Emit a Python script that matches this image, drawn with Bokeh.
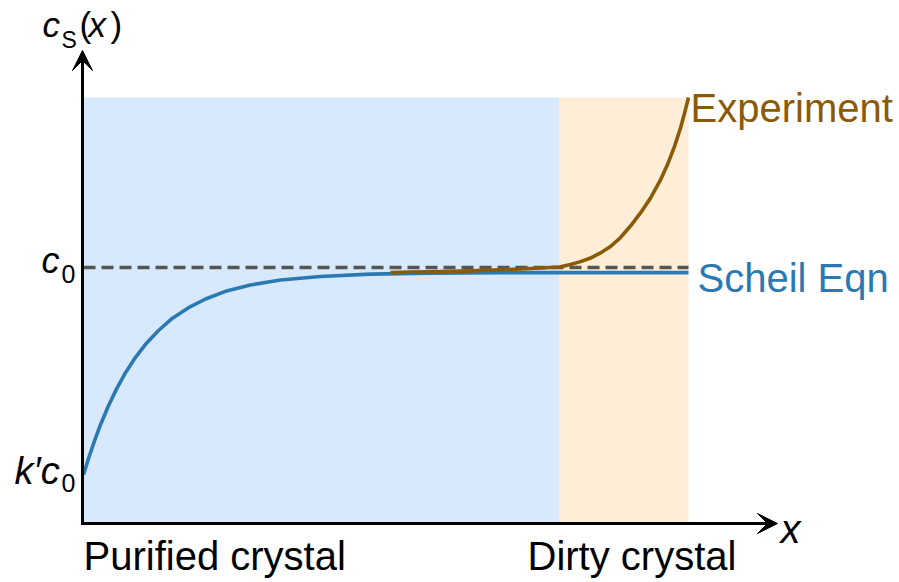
from bokeh.plotting import figure
from bokeh.models import Range1d, Arrow, VeeHead, Label
from bokeh.embed import file_html
from bokeh.resources import INLINE

# ---- data (position along crystal as fraction, concentration as c/c0) ----
scheil_x = [0.0, 0.0083, 0.0182, 0.0281, 0.0413, 0.0545, 0.0694, 0.0860, 0.1025,
            0.124, 0.147, 0.1736, 0.2017, 0.2347, 0.276, 0.3256, 0.3917, 0.4744,
            0.5736, 0.6893, 0.7868, 0.8876, 1.0]
scheil_c = [0.191, 0.254, 0.323, 0.386, 0.460, 0.525, 0.589, 0.649, 0.700,
            0.754, 0.802, 0.843, 0.877, 0.907, 0.932, 0.951, 0.965, 0.974,
            0.978, 0.980, 0.980, 0.980, 0.980]

exp_x = [0.5074, 0.5405, 0.5901, 0.6397, 0.6893, 0.7223, 0.7554, 0.7868, 0.8050,
         0.8215, 0.8380, 0.8545, 0.8711, 0.8876, 0.9041, 0.9207, 0.9372, 0.9537,
         0.9653, 0.9769, 0.9868, 0.9934, 1.0]
exp_c = [0.980, 0.982, 0.984, 0.987, 0.991, 0.994, 0.998, 1.002, 1.012,
         1.023, 1.037, 1.057, 1.082, 1.117, 1.162, 1.213, 1.271, 1.342,
         1.402, 1.473, 1.545, 1.602, 1.664]

region_names = ["Purified crystal", "Dirty crystal"]
region_left = [0.0, 0.787]
region_right = [0.787, 1.0]
region_top = 1.664
c0_level = 1.0
kc0_level = 0.191

BLUE = "#2a79b3"
BROWN = "#8b5a06"
FONT = "Liberation Sans"

# pixel helpers for annotation placement (image px -> data)
def X(px):
    return (px - 83) / 605.0

def Y(py):
    return (523 - py) / 256.0

p = figure(width=899, height=582, output_backend="svg", toolbar_location=None,
           x_range=Range1d(X(0), X(899)), y_range=Range1d(Y(582), Y(0)),
           min_border=0, title=None)
p.axis.visible = False
p.grid.visible = False
p.outline_line_color = None
p.background_fill_color = "white"
p.border_fill_color = "white"

p.quad(left=region_left, right=region_right, bottom=[0, 0], top=[region_top, region_top],
       fill_color=["#d9e9fc", "#feeed8"], line_color=None)

p.line([region_left[0], region_right[1]], [c0_level, c0_level], line_color="#555555",
       line_width=3.3, line_dash="12 6")
p.line(scheil_x, scheil_c, line_color=BLUE, line_width=3.6, line_join="round")
p.line(exp_x, exp_c, line_color=BROWN, line_width=3.6, line_join="round")

# axes with arrows
p.add_layout(Arrow(x_start=X(82), y_start=Y(524.5), x_end=X(82), y_end=Y(50),
                   line_width=3, line_color="black",
                   end=VeeHead(size=20, fill_color="black", line_color="black", line_width=1)))
p.add_layout(Arrow(x_start=X(80.5), y_start=Y(523), x_end=X(777), y_end=Y(523),
                   line_width=3, line_color="black",
                   end=VeeHead(size=20, fill_color="black", line_color="black", line_width=1)))

def lab(text, px, py, size, color="black", style="normal", align="left"):
    # compensate for the renderer's baseline offset
    py = py - 0.36 * size
    p.add_layout(Label(x=X(px), y=Y(py), text=text, text_font=FONT,
                       text_font_size=f"{size}px", text_color=color,
                       text_font_style=style, text_align=align,
                       text_baseline="alphabetic"))

# y axis title c_S(x)
lab("c", 42, 37, 35, style="italic")
lab("S", 61, 48, 23)
lab("(", 79, 37, 35)
lab("x", 88, 37, 35, style="italic")
lab(")", 110, 37, 35)

# c0
lab("c", 41, 273, 36, style="italic")
lab("0", 61, 282, 25)
# k'c0
lab("k\u2032c", 14, 484, 38, style="italic")
lab("0", 61, 491, 25)

# x axis label
lab("x", 780, 543, 40, style="italic")

lab(region_names[0], 83, 570, 40)
lab(region_names[1], 527, 570, 40)
lab("Experiment", 690, 122, 40, color=BROWN)
lab("Scheil Eqn", 697, 292, 40, color=BLUE)

open("out.html", "w").write(file_html(p, INLINE))
